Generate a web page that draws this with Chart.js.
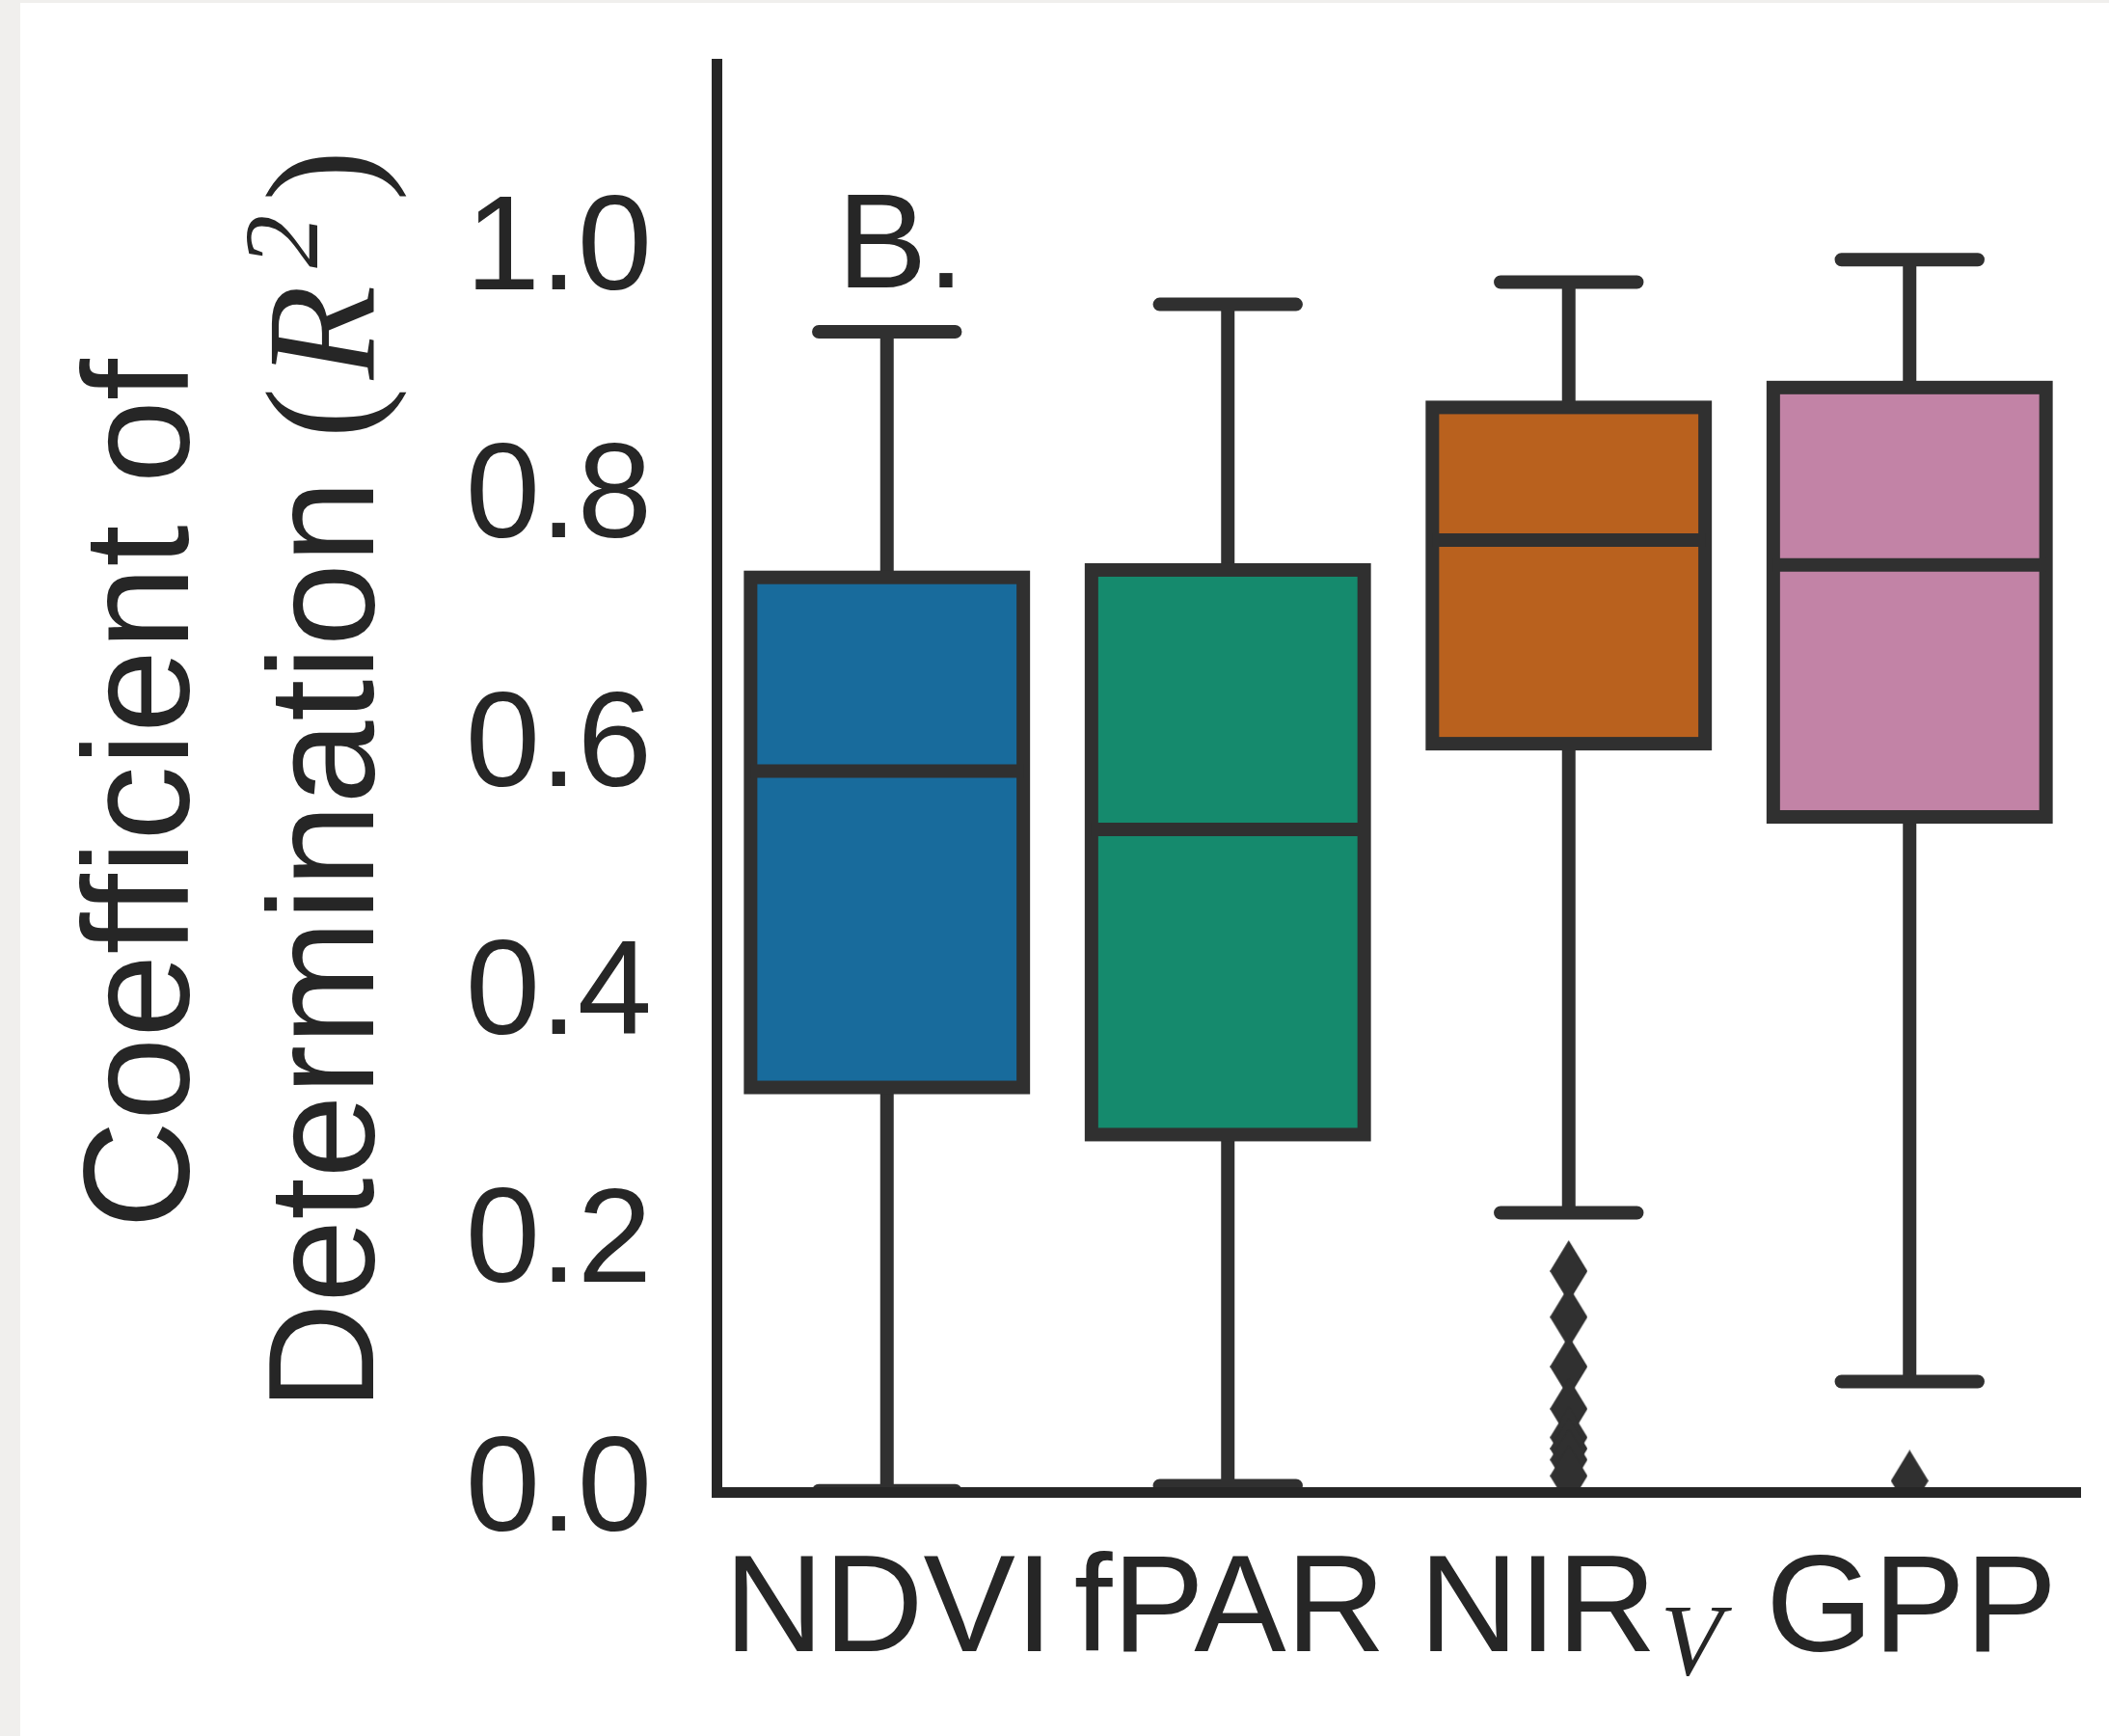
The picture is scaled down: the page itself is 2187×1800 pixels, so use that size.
<!DOCTYPE html>
<html lang="en">
<head>
<meta charset="UTF-8">
<title>Coefficient of Determination (R²) - B.</title>
<style>
  html, body { margin: 0; padding: 0; background: #f0efed; overflow: hidden; }
  #chart { display: block; }
</style>
</head>
<body>
<canvas id="chart" width="2187" height="1800"></canvas>
<script src="https://cdn.jsdelivr.net/npm/chart.js@4"></script>
<script>
// categories and box statistics
const categories = ['NDVI', 'fPAR', 'NIRv', 'GPP'];
const whiskerLow = [-0.005, -0.001, 0.219, 0.083];
const q1 = [0.320, 0.282, 0.597, 0.538];
const median = [0.575, 0.528, 0.761, 0.741];
const q3 = [0.731, 0.737, 0.868, 0.884];
const whiskerHigh = [0.929, 0.951, 0.969, 0.987];

// fliers
const outlierCat = ['NIRv', 'NIRv', 'NIRv', 'NIRv', 'NIRv', 'NIRv', 'NIRv', 'NIRv', 'GPP'];
const outlierVal = [0.172, 0.135, 0.095, 0.061, 0.038, 0.029, 0.020, 0.007, 0.003];

const yTicks = [0, 0.2, 0.4, 0.6, 0.8, 1.0];
const boxColors = ['#186b9c', '#158a6d', '#b9611e', '#c283a6'];

const ink = '#262626';
const lineColor = '#303030';
const sans = '"Liberation Sans", Arial, sans-serif';
const serif = '"Liberation Serif", "Times New Roman", serif';

// thin diamond marker like matplotlib 'd'
const diamond = document.createElement('canvas');
diamond.width = 39; diamond.height = 64;
(function () {
    const d = diamond.getContext('2d');
    d.fillStyle = lineColor;
    d.beginPath();
    d.moveTo(19.5, 0); d.lineTo(39, 32); d.lineTo(19.5, 64); d.lineTo(0, 32);
    d.closePath();
    d.fill();
})();

const paperPlugin = {
    id: 'paper',
    beforeDraw(chart) {
        const ctx = chart.ctx;
        ctx.save();
        ctx.fillStyle = '#ffffff';
        ctx.fillRect(21, 3, chart.width - 21, chart.height - 3);
        ctx.restore();
    }
};

// whiskers, caps, box outline and median lines
const boxPlugin = {
    id: 'boxes',
    afterDatasetsDraw(chart) {
        const ctx = chart.ctx, area = chart.chartArea, y = chart.scales.y;
        const bars = chart.getDatasetMeta(0).data;
        ctx.save();
        ctx.beginPath();
        ctx.rect(area.left, area.top, area.right - area.left, area.bottom - area.top);
        ctx.clip();
        ctx.strokeStyle = lineColor;
        ctx.lineWidth = 14;
        bars.forEach((bar, i) => {
            const cx = bar.x, half = bar.width / 2;
            const yLo = y.getPixelForValue(whiskerLow[i]);
            const yHi = y.getPixelForValue(whiskerHigh[i]);
            const yQ1 = y.getPixelForValue(q1[i]);
            const yQ3 = y.getPixelForValue(q3[i]);
            const yMed = y.getPixelForValue(median[i]);

            ctx.lineCap = 'butt';
            ctx.beginPath();
            ctx.moveTo(cx, yQ3); ctx.lineTo(cx, yHi);
            ctx.moveTo(cx, yQ1); ctx.lineTo(cx, yLo);
            ctx.stroke();

            ctx.lineCap = 'round';
            ctx.beginPath();
            ctx.moveTo(cx - half / 2, yHi); ctx.lineTo(cx + half / 2, yHi);
            ctx.moveTo(cx - half / 2, yLo); ctx.lineTo(cx + half / 2, yLo);
            ctx.stroke();

            ctx.lineCap = 'butt';
            ctx.lineJoin = 'miter';
            ctx.strokeRect(cx - half, yQ3, 2 * half, yQ1 - yQ3);

            ctx.beginPath();
            ctx.moveTo(cx - half, yMed); ctx.lineTo(cx + half, yMed);
            ctx.stroke();
        });
        ctx.restore();
    }
};

// text runs: [text, font, baseline shift, extra advance after]
function drawRuns(ctx, runs, cx, cy, rotate) {
    ctx.save();
    ctx.translate(cx, cy);
    if (rotate) ctx.rotate(-Math.PI / 2);
    ctx.textBaseline = 'alphabetic';
    ctx.textAlign = 'left';
    let total = 0;
    runs.forEach(r => { ctx.font = r[1]; total += ctx.measureText(r[0]).width + (r[3] || 0); });
    let u = -total / 2;
    runs.forEach(r => {
        ctx.font = r[1];
        ctx.fillText(r[0], u, r[2]);
        u += ctx.measureText(r[0]).width + (r[3] || 0);
    });
    ctx.restore();
}

const textPlugin = {
    id: 'texts',
    afterDraw(chart) {
        const ctx = chart.ctx, xs = chart.scales.x;
        ctx.save();
        ctx.fillStyle = ink;

        // x tick labels (NIR with italic subscript V)
        const tickFont = '143px ' + sans;
        categories.forEach((c, i) => {
            const px = xs.getPixelForTick(i);
            let runs = [[c, tickFont, 0]];
            if (c === 'NIRv') runs = [['NIR', tickFont, 0, 4], ['V', 'italic 105px ' + serif, 24]];
            drawRuns(ctx, runs, px + 2, 1712, false);
        });

        // y axis title, two lines
        drawRuns(ctx, [['Coefficient of', '155px ' + sans, 0]], 195, 823, true);
        drawRuns(ctx, [
            ['Determination ', '155px ' + sans, 0],
            ['(', '160px ' + serif, 0, 8],
            ['R', 'italic 160px ' + serif, 0, 18],
            ['2', 'italic 110px ' + serif, -58, 14],
            [')', '160px ' + serif, 0]
        ], 387, 809, true);

        // panel letter
        ctx.font = '140px ' + sans;
        ctx.textAlign = 'left';
        ctx.textBaseline = 'alphabetic';
        ctx.fillText('B.', 868, 298);
        ctx.restore();
    }
};

new Chart(document.getElementById('chart').getContext('2d'), {
    type: 'bar',
    data: {
        labels: categories,
        datasets: [
            {
                type: 'bar',
                data: categories.map((c, i) => [q1[i], q3[i]]),
                backgroundColor: boxColors,
                borderWidth: 0,
                barPercentage: 0.8,
                categoryPercentage: 1.0,
                order: 2
            },
            {
                type: 'line',
                data: outlierCat.map((c, i) => ({ x: c, y: outlierVal[i] })),
                showLine: false,
                borderWidth: 0,
                pointStyle: diamond,
                pointRadius: 30,
                pointHoverRadius: 30,
                order: 1
            }
        ]
    },
    options: {
        responsive: false,
        animation: false,
        events: [],
        layout: { padding: { top: 66, right: 27, left: 0, bottom: 0 } },
        plugins: { legend: { display: false }, tooltip: { enabled: false } },
        scales: {
            x: {
                type: 'category',
                offset: true,
                grid: { display: false, drawTicks: false },
                border: { display: true, width: 11, color: ink, z: 1 },
                ticks: { display: false },
                afterFit(s) { s.height = 253; s.paddingLeft = 0; s.paddingRight = 0; }
            },
            y: {
                min: -0.006,
                max: 1.145,
                grid: { display: false, drawTicks: false },
                border: { display: true, width: 11, color: ink, z: 1 },
                ticks: {
                    color: ink,
                    padding: 67,
                    labelOffset: 9,
                    font: { family: sans, size: 139 },
                    callback: v => v.toFixed(1)
                },
                afterBuildTicks(s) { s.ticks = yTicks.map(v => ({ value: v })); },
                afterFit(s) { s.width = 743; s.paddingTop = 0; s.paddingBottom = 0; }
            }
        }
    },
    plugins: [paperPlugin, boxPlugin, textPlugin]
});
</script>
</body>
</html>
